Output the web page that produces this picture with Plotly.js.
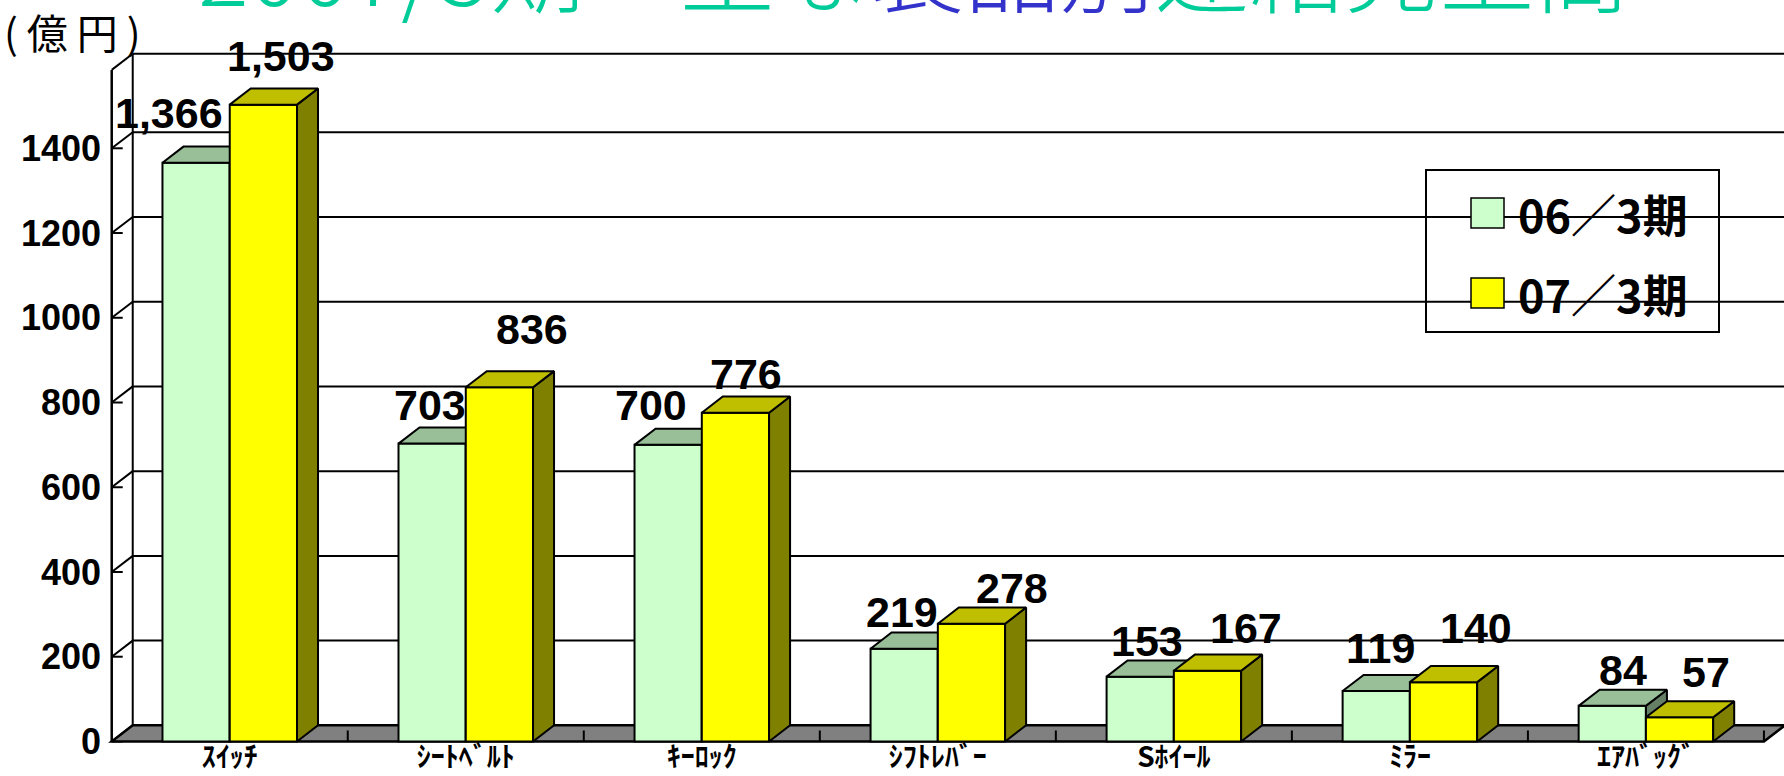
<!DOCTYPE html>
<html>
<head>
<meta charset="utf-8">
<script src="https://cdn.plot.ly/plotly-3.0.1.min.js"></script>
<style>
html,body{margin:0;padding:0;background:#ffffff;}
#chart{width:1784px;height:776px;}
</style>
</head>
<body>
<div id="chart"></div>
<script>
// ---------- data ----------
const categories = ['ｽｲｯﾁ','ｼｰﾄﾍﾞﾙﾄ','ｷｰﾛｯｸ','ｼﾌﾄﾚﾊﾞｰ','Sﾎｲｰﾙ','ﾐﾗｰ','ｴｱﾊﾞｯｸﾞ'];
const seriesNames = ['06／3期','07／3期'];
const sales06 = [1366, 703, 700, 219, 153, 119, 84];
const sales07 = [1503, 836, 776, 278, 167, 140, 57];
const yTickVals = [0, 200, 400, 600, 800, 1000, 1200, 1400];
const unitLabel = '(億円)';
const titleText = ['2007/3期　主な', '製品別', '連結売上高'];

// ---------- style / geometry (not data) ----------
const BAR_W = 0.285;      // bar width in category units
const DX = 0.089;         // 3-D depth, x (category units)
const DY = 38;            // 3-D depth, y (value units)
const WALL_TOP = 1585;    // height of back wall (value units)
const X_LO = -0.52, X_HI = 6.585, Y_LO = -6, Y_HI = 1750;
const ML = 107, MR = 0, MT = 0, MB = 32, W = 1784, H = 776;
const PW = W - ML - MR, PH = H - MT - MB;
const pxPerX = PW / (X_HI - X_LO), pxPerY = PH / (Y_HI - Y_LO);
const paperX = px => (px - ML) / PW;
const paperY = py => 1 - (py - MT) / PH;

// label pixel offsets (x from top-face centre, y above back top edge)
const labelDx = [[-38, -13, -28, -13, -4, -6, 0], [7, 22, 0, 30, 28, 22, 16]];
const labelDy = [[34, 23, 24, 21, 20, 27, 20], [33, 42, 23, 20, 27, 38, 29]];

const colors = [
  {front: '#CCFFCC', top: '#99BF99', side: '#668066'},
  {front: '#FFFF00', top: '#BFBF00', side: '#808000'}
];
const series = [sales06, sales07];
const idx = categories.map((_, i) => i);
const nCat = categories.length;

const traces = [];
const annotations = [];
series.forEach((vals, s) => {
  const xa = s === 0 ? 'x' : 'x2', ya = s === 0 ? 'y' : 'y2';
  const off = s === 0 ? -BAR_W : 0;
  traces.push({
    type: 'bar', x: idx, y: vals, width: BAR_W, offset: off,
    name: seriesNames[s], xaxis: xa, yaxis: ya,
    marker: {color: colors[s].front, line: {color: '#000', width: 2}},
    hoverinfo: 'skip', showlegend: false
  });
  const tx = [], ty = [], sx = [], sy = [];
  vals.forEach((v, i) => {
    const xL = i + off, xR = xL + BAR_W;
    tx.push(xL, xR, xR + DX, xL + DX, xL, null);
    ty.push(v, v, v + DY, v + DY, v, null);
    sx.push(xR, xR + DX, xR + DX, xR, xR, null);
    sy.push(0, DY, v + DY, v, 0, null);
    annotations.push({
      xref: 'x', yref: 'y',
      x: xL + BAR_W / 2 + DX / 2, y: v + DY,
      xanchor: 'center', yanchor: 'middle',
      xshift: labelDx[s][i], yshift: labelDy[s][i],
      text: v.toLocaleString('en-US'), showarrow: false,
      font: {family: 'Liberation Sans, Arial, sans-serif', size: 43, color: '#000', weight: 'bold'}
    });
  });
  traces.push({
    type: 'scatter', mode: 'lines', x: sx, y: sy, xaxis: xa, yaxis: ya,
    fill: 'toself', fillcolor: colors[s].side, line: {color: '#000', width: 2},
    hoverinfo: 'skip', showlegend: false, connectgaps: false
  });
  traces.push({
    type: 'scatter', mode: 'lines', x: tx, y: ty, xaxis: xa, yaxis: ya,
    fill: 'toself', fillcolor: colors[s].top, line: {color: '#000', width: 2},
    hoverinfo: 'skip', showlegend: false, connectgaps: false
  });
});

// ---------- walls, floor, gridlines ----------
const shapes = [];
const L = -0.5, R = nCat - 0.5;
const blk = {color: '#000', width: 2};
yTickVals.concat([WALL_TOP]).forEach(v => {
  shapes.push({type: 'line', xref: 'x', yref: 'y', layer: 'below',
    x0: L + DX, x1: R + DX + 0.2, y0: v + DY, y1: v + DY, line: blk});
  shapes.push({type: 'line', xref: 'x', yref: 'y', layer: 'below',
    x0: L, x1: L + DX, y0: v, y1: v + DY, line: blk});
});
yTickVals.forEach(v => {
  shapes.push({type: 'line', xref: 'x', yref: 'y', layer: 'below',
    x0: L, x1: L + 11 / pxPerX, y0: v, y1: v, line: blk});
});
shapes.push({type: 'line', xref: 'x', yref: 'y', layer: 'below',
  x0: L + DX, x1: L + DX, y0: DY, y1: WALL_TOP + DY, line: blk});
shapes.push({type: 'line', xref: 'x', yref: 'y', layer: 'below',
  x0: L, x1: L, y0: 0, y1: WALL_TOP, line: {color: '#000', width: 2.5}});
shapes.push({type: 'path', xref: 'x', yref: 'y', layer: 'below',
  path: `M${L},0 L${R},0 L${R + DX},${DY} L${L + DX},${DY} Z`,
  fillcolor: '#808080', line: {color: '#000', width: 2.5}});
for (let i = 0; i < nCat; i++) {
  shapes.push({type: 'line', xref: 'x', yref: 'y', layer: 'below',
    x0: i + 0.5, x1: i + 0.5, y0: 0, y1: 11 / pxPerY, line: blk});
}
// legend box (drawn by hand so swatches match)
shapes.push({type: 'rect', xref: 'paper', yref: 'paper', layer: 'below',
  x0: paperX(1426), x1: paperX(1719), y0: paperY(332), y1: paperY(170),
  fillcolor: '#fff', line: {color: '#000', width: 2}});
[[198, 228], [278, 308]].forEach((r, s) => {
  shapes.push({type: 'rect', xref: 'paper', yref: 'paper', layer: 'above',
    x0: paperX(1471), x1: paperX(1504), y0: paperY(r[1]), y1: paperY(r[0]),
    fillcolor: colors[s].front, line: {color: '#000', width: 1.5}});
  annotations.push({xref: 'paper', yref: 'paper', x: paperX(1516), y: paperY((r[0] + r[1]) / 2),
    xanchor: 'left', yanchor: 'middle', showarrow: false, text: seriesNames[s],
    font: {family: 'Noto Sans CJK JP, sans-serif', size: 45, color: '#000', weight: 'bold'}});
});

// title (cropped at top in the reference) and unit label
annotations.push({xref: 'paper', yref: 'paper', x: paperX(196), y: paperY(-35),
  xanchor: 'left', yanchor: 'middle', showarrow: false,
  text: `<span style="color:#00CC99">${titleText[0]}</span><span style="color:#3333CC">${titleText[1]}</span><span style="color:#00CC99">${titleText[2]}</span>`,
  font: {family: 'Noto Sans CJK JP, sans-serif', size: 95, color: '#00CC99', weight: 300}});
annotations.push({xref: 'paper', yref: 'paper', x: paperX(2), y: paperY(31),
  xanchor: 'left', yanchor: 'middle', showarrow: false,
  text: `<span style="letter-spacing:9px">${unitLabel}</span>`,
  font: {family: 'Noto Sans CJK JP, sans-serif', size: 41, color: '#000'}});

const layout = {
  width: W, height: H,
  margin: {l: ML, r: MR, t: MT, b: MB, pad: 0},
  paper_bgcolor: '#fff', plot_bgcolor: 'rgba(0,0,0,0)',
  showlegend: false, barmode: 'overlay',
  xaxis: {range: [X_LO, X_HI], tickvals: idx, ticktext: categories, ticks: '',
    showgrid: false, zeroline: false, showline: false, automargin: false, fixedrange: true,
    ticklabelstandoff: -6,
    tickfont: {family: 'Noto Sans CJK JP, sans-serif', size: 28, color: '#000', weight: 'bold'}},
  yaxis: {range: [Y_LO, Y_HI], tickvals: yTickVals, ticks: '',
    showgrid: false, zeroline: false, showline: false, automargin: false, fixedrange: true,
    ticklabelstandoff: 5,
    tickfont: {family: 'Liberation Sans, Arial, sans-serif', size: 36, color: '#000', weight: 'bold'}},
  xaxis2: {range: [X_LO, X_HI], overlaying: 'x', visible: false, fixedrange: true},
  yaxis2: {range: [Y_LO, Y_HI], overlaying: 'y', visible: false, fixedrange: true},
  shapes: shapes,
  annotations: annotations
};

Plotly.newPlot('chart', traces, layout, {displayModeBar: false, staticPlot: true});
</script>
</body>
</html>
